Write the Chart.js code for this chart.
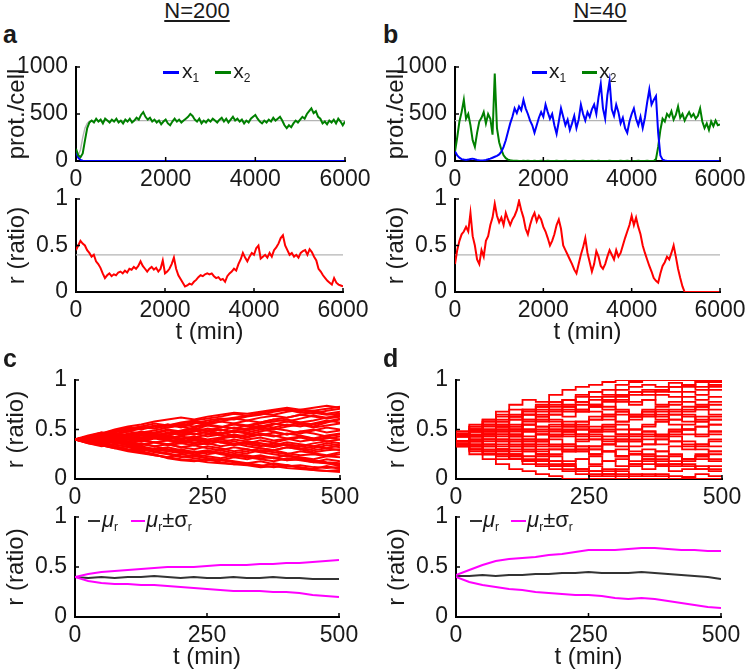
<!DOCTYPE html>
<html>
<head>
<meta charset="utf-8">
<script src="https://cdn.jsdelivr.net/npm/chart.js@4.4.1/dist/chart.umd.min.js"></script>
<style>
  html, body { margin:0; padding:0; background:#fff; }
  #fig { position:relative; width:750px; height:669px; overflow:hidden; font-family:'Liberation Sans', Arial, Helvetica, sans-serif; color:#1a1a1a; }
  .box { position:absolute; }
  .txt { position:absolute; white-space:nowrap; z-index:2; }
  .lab { font-weight:bold; font-size:25px; line-height:25px; }
  .head { font-size:22px; line-height:22px; text-decoration:underline; width:200px; text-align:center; }
  .lg { font-size:21px; line-height:21px; }
  .lg2 { font-size:22px; line-height:22px; }
  .sw { display:inline-block; height:2.5px; vertical-align:middle; }
  .txt sub { font-size:12px; vertical-align:-4px; line-height:0; }
</style>
</head>
<body>
<div id="fig">
  <div class="txt head" style="left:97px;top:0px">N=200</div>
  <div class="txt head" style="left:500px;top:0px">N=40</div>
  <div class="txt lab" style="left:3px;top:22px">a</div>
  <div class="txt lab" style="left:383px;top:22px">b</div>
  <div class="txt lab" style="left:3px;top:346px">c</div>
  <div class="txt lab" style="left:383px;top:346px">d</div>

  <div class="txt lg" style="left:163px;top:60px"><span class="sw" style="width:16px;background:#0000ff"></span><span style="margin-left:3px">x</span><sub>1</sub><span class="sw" style="width:16px;background:#008000;margin-left:16px"></span><span style="margin-left:2px">x</span><sub>2</sub></div>
  <div class="txt lg" style="left:532px;top:60px"><span class="sw" style="width:15px;background:#0000ff"></span><span style="margin-left:2px">x</span><sub>1</sub><span class="sw" style="width:15px;background:#008000;margin-left:16px"></span><span style="margin-left:2px">x</span><sub>2</sub></div>

  <div class="txt lg2" style="left:88px;top:509px"><span class="sw" style="width:12px;background:#333"></span><i style="margin-left:2px">μ</i><sub>r</sub><span class="sw" style="width:14px;background:#ff00ff;margin-left:13px"></span><i style="margin-left:1px">μ</i><sub>r</sub>±σ<sub>r</sub></div>
  <div class="txt lg2" style="left:470px;top:509px"><span class="sw" style="width:12px;background:#333"></span><i style="margin-left:1px">μ</i><sub>r</sub><span class="sw" style="width:15px;background:#ff00ff;margin-left:12px"></span><i style="margin-left:1px">μ</i><sub>r</sub>±σ<sub>r</sub></div>
</div>

<script>
// time axes
const tLong = Array.from({ length: 121 }, (_, i) => i * 50);   // 0..6000 min
const tShort = Array.from({ length: 21 }, (_, i) => i * 25);   // 0..500 min

// panel a (N=200), proteins per cell
const aX1T = [0, 50, 100, 150, 200, 6000];
const aX1 = [100, 35, 10, 2, 0, 0];
const aX2 = [
  130, 60, 40, 80, 220, 350, 410, 430, 410, 450,
  420, 440, 400, 450, 430, 410, 440, 420, 450, 410,
  430, 400, 440, 420, 450, 410, 430, 460, 440, 490,
  520, 470, 440, 460, 420, 440, 410, 430, 390, 420,
  440, 400, 380, 420, 450, 420, 440, 410, 430, 450,
  470, 500, 480, 440, 420, 450, 400, 430, 410, 440,
  420, 450, 430, 410, 440, 460, 420, 450, 410, 440,
  470, 430, 450, 420, 440, 400, 430, 410, 450, 470,
  490, 450, 420, 400, 430, 410, 440, 420, 460, 430,
  450, 470, 430, 380, 350, 380, 360, 400, 430, 410,
  440, 470, 450, 500, 530, 560, 510, 530, 470, 450,
  400, 420, 390, 430, 410, 440, 400, 450, 420, 380,
  420
];
const aDetT = [0, 50, 100, 150, 200, 250, 300, 350, 6000];
const aDet = [80, 60, 120, 250, 350, 400, 425, 430, 430];

// panel b (N=40), proteins per cell
const bX1 = [
  100, 60, 35, 20, 15, 12, 15, 22, 25, 18,
  12, 8, 6, 8, 12, 18, 25, 35, 45, 55,
  70, 100, 150, 220, 310, 400, 470, 560, 510, 580,
  540, 650, 560, 500, 430, 380, 300, 380, 460, 520,
  470, 600, 520, 450, 500, 380, 290, 420, 560, 470,
  380, 440, 330, 400, 480, 350, 440, 600, 500, 430,
  520, 470, 550, 600, 500, 680, 820, 560, 450, 700,
  850, 550, 480, 600, 520, 400, 460, 350, 300, 420,
  500, 560, 450, 380, 470, 350, 460, 620, 760, 600,
  650, 690, 300, 60, 15, 5, 0, 0, 0, 0,
  0, 0, 0, 0, 0, 0, 0, 0, 0, 0,
  0, 0, 0, 0, 0, 0, 0, 0, 0, 0,
  0
];
const bX2 = [
  100, 250, 420, 520, 650, 450, 500, 380, 220, 150,
  300, 420, 460, 520, 400, 500, 450, 280, 930, 350,
  200, 120, 60, 30, 15, 8, 5, 3, 2, 0,
  0, 2, 0, 3, 0, 0, 2, 0, 0, 3,
  0, 0, 2, 0, 0, 0, 3, 0, 0, 0,
  2, 0, 0, 0, 3, 0, 0, 0, 2, 0,
  0, 0, 3, 0, 0, 2, 0, 0, 0, 0,
  2, 0, 0, 0, 0, 3, 0, 0, 2, 0,
  0, 0, 0, 2, 0, 0, 0, 3, 0, 0,
  0, 20, 150, 330, 450, 420, 500, 470, 530, 440,
  490, 580, 460, 500, 430, 480, 520, 470, 500, 450,
  480, 560, 420, 350, 400, 330, 420, 370, 430, 380,
  390
];
const xStar = 430;

// ratio r over 6000 min
const rA = [
  .45, .50, .55, .52, .50, .45, .42, .38, .40, .33,
  .30, .26, .20, .15, .18, .20, .17, .19, .18, .21,
  .22, .20, .23, .21, .25, .24, .27, .25, .28, .33,
  .28, .25, .22, .25, .27, .24, .26, .22, .25, .34,
  .20, .22, .25, .30, .37, .25, .18, .14, .10, .06,
  .07, .09, .08, .11, .13, .16, .18, .17, .19, .20,
  .19, .20, .17, .15, .16, .13, .14, .11, .17, .20,
  .22, .25, .23, .30, .35, .42, .37, .33, .38, .42,
  .40, .47, .50, .36, .38, .40, .37, .42, .38, .45,
  .48, .52, .58, .61, .50, .45, .40, .42, .38, .40,
  .37, .42, .44, .45, .40, .46, .43, .38, .34, .25,
  .22, .18, .15, .12, .10, .08, .15, .10, .08, .07,
  .06
];
const rB = [
  .30, .45, .55, .62, .65, .70, .65, .85, .60, .50,
  .35, .30, .45, .38, .55, .60, .72, .80, .95, .82,
  .75, .80, .72, .85, .78, .72, .78, .82, .88, .98,
  .88, .80, .68, .62, .72, .80, .85, .76, .82, .78,
  .70, .65, .58, .50, .55, .62, .72, .78, .68, .50,
  .45, .40, .35, .30, .24, .20, .30, .40, .48, .58,
  .42, .32, .22, .30, .44, .38, .28, .25, .30, .38,
  .45, .40, .35, .45, .38, .42, .50, .58, .65, .72,
  .82, .72, .80, .70, .62, .50, .42, .35, .28, .22,
  .15, .12, .10, .20, .28, .32, .38, .35, .42, .50,
  .38, .25, .15, .06, 0, 0, 0, 0, 0, 0,
  0, 0, 0, 0, 0, 0, 0, 0, 0, 0,
  0
];
const rStar = 0.4;

// panel c: trajectories of r, N=200
const cRuns = [
  [.40, .43, .45, .47, .50, .52, .51, .54, .56, .58, .57, .60, .62, .64, .66, .65, .68, .70, .69, .71, .73],
  [.40, .37, .34, .31, .28, .26, .24, .22, .20, .19, .17, .16, .15, .14, .12, .13, .11, .10, .09, .08, .07],
  [.40, .42, .44, .48, .52, .50, .53, .55, .52, .56, .59, .61, .60, .63, .65, .68, .70, .67, .69, .66, .68],
  [.40, .38, .35, .33, .30, .28, .25, .21, .19, .18, .20, .17, .15, .16, .18, .15, .13, .14, .12, .11, .12],
  [.40, .42, .40, .43, .45, .47, .44, .46, .48, .51, .49, .52, .55, .53, .56, .58, .60, .57, .59, .62, .64],
  [.40, .39, .36, .38, .35, .33, .30, .32, .29, .27, .28, .25, .23, .24, .21, .22, .19, .20, .17, .16, .15],
  [.40, .41, .44, .42, .45, .48, .46, .49, .47, .45, .48, .50, .47, .49, .52, .50, .53, .55, .52, .54, .56],
  [.40, .38, .40, .37, .34, .36, .33, .35, .32, .30, .33, .31, .28, .30, .27, .29, .26, .24, .25, .23, .22],
  [.40, .43, .41, .44, .42, .40, .43, .41, .44, .46, .43, .45, .48, .46, .44, .47, .45, .48, .50, .47, .49],
  [.40, .37, .39, .36, .38, .35, .37, .39, .36, .34, .36, .33, .35, .37, .34, .32, .35, .33, .31, .34, .32],
  [.40, .44, .47, .45, .49, .53, .51, .55, .53, .50, .54, .52, .56, .54, .51, .55, .58, .56, .53, .57, .60],
  [.40, .36, .33, .35, .32, .29, .31, .28, .26, .28, .25, .27, .24, .26, .29, .27, .25, .28, .26, .24, .27],
  [.40, .41, .39, .42, .40, .38, .41, .39, .37, .40, .38, .41, .43, .40, .42, .39, .41, .38, .40, .42, .40],
  [.40, .42, .45, .43, .41, .44, .42, .40, .38, .41, .39, .37, .40, .38, .36, .34, .37, .35, .33, .36, .34],
  [.40, .38, .36, .39, .41, .39, .42, .44, .47, .45, .48, .46, .49, .51, .54, .52, .55, .53, .56, .59, .57],
  [.40, .39, .42, .40, .37, .35, .33, .30, .28, .25, .23, .21, .24, .22, .20, .18, .21, .19, .17, .20, .18],
  [.40, .43, .46, .49, .51, .53, .56, .54, .57, .59, .61, .63, .66, .64, .67, .69, .71, .68, .66, .69, .71],
  [.40, .37, .35, .32, .29, .27, .24, .22, .25, .23, .21, .19, .22, .20, .23, .21, .24, .22, .20, .23, .25],
  [.40, .42, .39, .37, .40, .42, .45, .43, .40, .42, .45, .47, .44, .42, .45, .43, .46, .44, .41, .44, .46],
  [.40, .38, .41, .39, .36, .39, .37, .34, .36, .39, .37, .40, .38, .35, .33, .36, .34, .31, .29, .31, .29],
  [.40, .43, .41, .45, .48, .46, .43, .46, .49, .52, .55, .53, .51, .54, .57, .60, .62, .65, .63, .61, .63],
  [.40, .36, .34, .31, .33, .30, .27, .25, .22, .24, .21, .19, .17, .15, .13, .16, .14, .12, .10, .13, .10],
  [.40, .41, .43, .40, .38, .41, .44, .42, .39, .37, .35, .38, .36, .33, .31, .29, .32, .30, .27, .29, .30],
  [.40, .39, .37, .40, .43, .45, .42, .44, .47, .49, .46, .44, .42, .45, .48, .51, .49, .46, .49, .52, .50],
  [.40, .42, .46, .50, .53, .55, .58, .60, .62, .60, .63, .65, .67, .66, .68, .70, .72, .70, .72, .74, .72],
  [.40, .38, .35, .37, .34, .31, .28, .26, .23, .21, .19, .20, .18, .16, .14, .12, .14, .11, .09, .08, .09],
  [.40, .41, .38, .40, .43, .41, .44, .47, .45, .48, .51, .49, .52, .50, .53, .56, .54, .57, .55, .58, .61],
  [.40, .39, .41, .38, .36, .34, .37, .35, .32, .34, .31, .29, .32, .30, .27, .25, .23, .21, .19, .17, .16],
  [.40, .43, .45, .42, .46, .44, .47, .50, .48, .51, .49, .46, .49, .47, .50, .48, .45, .48, .46, .43, .45],
  [.40, .37, .39, .41, .38, .40, .37, .35, .38, .36, .39, .37, .34, .36, .39, .37, .40, .42, .39, .41, .43],
  [.40, .42, .44, .46, .44, .47, .49, .52, .54, .57, .55, .58, .61, .59, .62, .64, .62, .65, .67, .65, .66],
  [.40, .38, .36, .33, .35, .32, .30, .28, .30, .27, .29, .26, .24, .22, .24, .21, .19, .21, .18, .16, .13],
  [.40, .41, .40, .38, .41, .39, .42, .40, .43, .41, .39, .37, .35, .38, .36, .33, .35, .33, .36, .38, .36],
  [.40, .42, .40, .43, .41, .44, .46, .44, .41, .43, .40, .42, .45, .43, .46, .44, .41, .43, .41, .38, .40],
  [.40, .37, .34, .32, .29, .31, .28, .30, .27, .25, .27, .29, .26, .28, .31, .29, .32, .30, .33, .31, .34],
  [.40, .43, .47, .45, .48, .51, .54, .52, .55, .53, .56, .58, .56, .59, .57, .60, .58, .61, .64, .62, .65]
];

// panel d: trajectories of r, N=40
const dRuns = [
  [.40, .45, .55, .60, .68, .75, .80, .78, .85, .90, .93, .95, .98, 1, 1, 1, 1, 1, 1, 1, 1],
  [.40, .33, .25, .20, .15, .10, .08, .05, .03, 0, 0, 0, 0, 0, 0, 0, 0, 0, 0, 0, 0],
  [.40, .48, .50, .58, .63, .70, .65, .73, .78, .75, .83, .88, .85, .90, .93, .95, .93, .97, .95, .98, .95],
  [.40, .35, .30, .33, .25, .20, .23, .18, .13, .15, .10, .08, .05, .08, .05, .03, .05, .03, .02, .05, .03],
  [.40, .45, .43, .50, .55, .53, .60, .58, .65, .70, .68, .73, .70, .78, .75, .80, .85, .83, .88, .85, .90],
  [.40, .38, .33, .35, .30, .28, .33, .25, .23, .18, .20, .15, .18, .13, .15, .10, .13, .08, .10, .13, .10],
  [.40, .43, .48, .45, .53, .50, .55, .60, .58, .53, .58, .63, .60, .65, .60, .63, .68, .65, .70, .73, .70],
  [.40, .38, .35, .40, .38, .33, .30, .35, .33, .28, .30, .25, .28, .30, .25, .23, .28, .25, .20, .23, .25],
  [.40, .45, .50, .48, .45, .50, .55, .53, .48, .50, .45, .48, .53, .55, .50, .53, .58, .55, .50, .53, .55],
  [.40, .35, .38, .43, .40, .35, .38, .40, .45, .43, .38, .40, .35, .38, .33, .35, .40, .38, .35, .33, .38],
  [.40, .48, .53, .60, .65, .63, .70, .75, .73, .80, .78, .75, .80, .83, .78, .80, .75, .78, .83, .80, .83],
  [.40, .33, .28, .25, .30, .25, .20, .23, .18, .15, .20, .23, .18, .20, .15, .18, .13, .15, .18, .20, .18],
  [.40, .43, .40, .45, .48, .43, .40, .45, .43, .48, .45, .40, .43, .38, .40, .45, .43, .48, .45, .43, .45],
  [.40, .38, .43, .45, .40, .43, .48, .50, .55, .53, .58, .60, .63, .58, .63, .65, .60, .65, .63, .60, .63],
  [.40, .43, .38, .35, .30, .33, .28, .25, .30, .28, .33, .30, .35, .33, .28, .25, .20, .23, .20, .25, .28],
  [.40, .45, .50, .55, .60, .65, .70, .68, .75, .80, .85, .88, .90, .95, .98, 1, 1, 1, 1, 1, 1],
  [.40, .35, .30, .28, .23, .20, .15, .18, .13, .10, .08, .05, .03, 0, 0, 0, 0, 0, 0, 0, 0],
  [.40, .45, .43, .48, .53, .55, .50, .45, .50, .48, .43, .45, .40, .43, .38, .35, .40, .43, .38, .35, .40],
  [.40, .38, .33, .38, .43, .45, .50, .48, .53, .58, .55, .60, .65, .68, .65, .70, .73, .75, .78, .75, .78],
  [.40, .43, .38, .40, .35, .38, .33, .28, .30, .33, .28, .25, .28, .23, .18, .20, .15, .13, .15, .10, .08],
  [.40, .45, .53, .58, .55, .60, .65, .70, .68, .73, .70, .75, .73, .70, .65, .68, .63, .60, .65, .58, .60],
  [.40, .35, .38, .33, .28, .30, .35, .38, .33, .35, .40, .43, .38, .40, .45, .48, .43, .48, .50, .45, .48],
  [.40, .43, .48, .45, .50, .48, .43, .38, .40, .35, .30, .33, .28, .23, .25, .20, .23, .18, .13, .10, .13],
  [.40, .38, .43, .48, .53, .50, .55, .60, .65, .63, .68, .73, .78, .80, .85, .88, .90, .93, .95, .93, .95],
  [.40, .45, .50, .55, .53, .60, .65, .63, .70, .68, .75, .80, .83, .85, .88, .90, .88, .93, .95, .98, .98],
  [.40, .35, .30, .25, .28, .23, .18, .20, .15, .13, .10, .08, .10, .05, .03, .05, .03, 0, 0, 0, 0],
  [.40, .43, .45, .50, .48, .53, .58, .63, .60, .55, .53, .48, .50, .45, .43, .40, .35, .38, .33, .30, .28],
  [.40, .38, .35, .30, .33, .38, .40, .45, .43, .48, .53, .50, .55, .58, .63, .68, .65, .70, .68, .73, .75],
  [.40, .43, .48, .53, .58, .63, .68, .73, .78, .80, .78, .83, .80, .85, .88, .85, .90, .88, .93, .90, .93],
  [.40, .38, .33, .28, .25, .20, .18, .15, .18, .13, .10, .13, .08, .10, .13, .15, .18, .15, .20, .23, .20],
  [.40, .45, .40, .43, .38, .40, .35, .38, .43, .45, .50, .48, .53, .50, .45, .48, .43, .45, .50, .53, .48],
  [.40, .38, .43, .40, .45, .43, .38, .33, .35, .30, .28, .33, .35, .40, .38, .43, .45, .50, .55, .58, .55],
  [.40, .43, .50, .55, .58, .63, .60, .65, .70, .73, .70, .68, .65, .68, .63, .65, .70, .68, .73, .70, .65],
  [.40, .35, .33, .28, .30, .25, .28, .30, .25, .28, .33, .30, .28, .23, .25, .30, .28, .33, .30, .35, .33],
  [.40, .45, .48, .45, .50, .45, .48, .53, .50, .55, .50, .53, .48, .45, .50, .55, .58, .60, .58, .63, .60],
  [.40, .33, .30, .25, .20, .23, .18, .13, .10, .08, .05, .03, .05, .03, 0, 0, 0, 0, 0, 0, 0]
];

// mean and mean +/- sd of r
const cMean = [.40, .39, .40, .39, .40, .40, .41, .40, .39, .40, .39, .39, .40, .39, .39, .40, .39, .39, .38, .38, .38];
const cUp = [.40, .43, .45, .46, .47, .48, .49, .50, .50, .50, .51, .52, .52, .52, .53, .53, .54, .54, .55, .56, .57];
const cLo = [.40, .36, .34, .33, .33, .32, .32, .31, .30, .29, .28, .27, .26, .26, .26, .25, .25, .24, .22, .21, .20];
const dMean = [.41, .41, .42, .41, .42, .42, .43, .43, .44, .44, .45, .44, .44, .44, .45, .44, .43, .42, .41, .40, .38];
const dUp = [.42, .47, .52, .56, .58, .59, .60, .62, .63, .65, .67, .67, .67, .68, .69, .69, .68, .67, .67, .66, .66];
const dLo = [.40, .35, .32, .30, .28, .27, .25, .24, .23, .22, .22, .21, .19, .18, .19, .18, .16, .14, .12, .10, .09];

const FONT = "'Liberation Sans', Arial, Helvetica, sans-serif";
const INK = '#1a1a1a';
const YW = 76, PT = 14, PR = 30;

const pts = (ts, vs) => vs.map((v, i) => ({ x: ts[i], y: v }));
function line(data, color, width, extra) {
  return Object.assign({ data: data, borderColor: color, borderWidth: width, pointRadius: 0, fill: false, tension: 0 }, extra || {});
}

// matlab style ticks pointing into the plot
const inwardTicks = {
  id: 'inwardTicks',
  afterDraw(chart) {
    const { ctx, chartArea: a, scales } = chart;
    ctx.save();
    ctx.strokeStyle = '#000';
    ctx.lineWidth = 1.5;
    scales.x.ticks.forEach(t => {
      const px = scales.x.getPixelForValue(t.value);
      ctx.beginPath(); ctx.moveTo(px, a.bottom); ctx.lineTo(px, a.bottom - 4); ctx.stroke();
    });
    scales.y.ticks.forEach(t => {
      const py = scales.y.getPixelForValue(t.value);
      ctx.beginPath(); ctx.moveTo(a.left, py); ctx.lineTo(a.left + 4, py); ctx.stroke();
    });
    ctx.restore();
  }
};

function panel(box, cfg) {
  const xh = cfg.xTitle ? 55 : 30;
  const w = YW + box.x1 - box.x0 + PR;
  const h = PT + box.y1 - box.y0 + xh;
  const div = document.createElement('div');
  div.className = 'box';
  div.style.left = (box.x0 - YW) + 'px';
  div.style.top = (box.y0 - PT) + 'px';
  const cv = document.createElement('canvas');
  cv.width = w; cv.height = h;
  cv.style.width = w + 'px'; cv.style.height = h + 'px';
  div.appendChild(cv);
  document.getElementById('fig').appendChild(div);

  new Chart(cv, {
    type: 'line',
    data: { datasets: cfg.datasets },
    plugins: [inwardTicks],
    options: {
      responsive: false,
      animation: false,
      devicePixelRatio: 1,
      layout: { padding: { left: 0, top: PT, right: PR, bottom: 0 }, autoPadding: false },
      plugins: { legend: { display: false }, tooltip: { enabled: false } },
      scales: {
        x: {
          type: 'linear', min: 0, max: cfg.xMax,
          grid: { display: false, drawTicks: false },
          border: { display: true, color: '#000', width: 2 },
          ticks: { stepSize: cfg.xStep, maxRotation: 0, autoSkip: false, padding: 5, color: INK,
                   font: { family: FONT, size: 23 }, callback: v => String(v) },
          title: { display: !!cfg.xTitle, text: cfg.xTitle || '', color: INK,
                   font: { family: FONT, size: 24 }, padding: { top: 0, bottom: 0 } },
          afterFit: s => { s.height = xh; s.paddingLeft = 0; s.paddingRight = 0; }
        },
        y: {
          min: 0, max: cfg.yMax,
          grid: { display: false, drawTicks: false },
          border: { display: true, color: '#000', width: 2 },
          ticks: { stepSize: cfg.yStep, autoSkip: false, padding: 8, color: INK,
                   font: { family: FONT, size: 23 }, callback: v => String(v) },
          title: { display: true, text: cfg.yTitle, color: INK,
                   font: { family: FONT, size: 24 }, padding: { top: 3, bottom: 0 } },
          afterFit: s => { s.width = YW; s.paddingTop = 0; s.paddingBottom = 0; }
        }
      }
    }
  });
}

// a: protein counts, N=200
panel({ x0: 76, x1: 345, y0: 67, y1: 161 }, {
  xMax: 6000, xStep: 2000, yMax: 1000, yStep: 500, yTitle: 'prot./cell',
  datasets: [
    line(pts(tLong, aX2), '#008000', 2),
    line(pts(aX1T, aX1), '#0000ff', 2),
    line(pts(aDetT, aDet), '#b4b4b4', 1.4)
  ]
});
// b: protein counts, N=40
panel({ x0: 455, x1: 720, y0: 67, y1: 161 }, {
  xMax: 6000, xStep: 2000, yMax: 1000, yStep: 500, yTitle: 'prot./cell',
  datasets: [
    line(pts(tLong, bX1), '#0000ff', 2),
    line(pts(tLong, bX2), '#008000', 2),
    line([{ x: 0, y: xStar }, { x: 6000, y: xStar }], '#b4b4b4', 1.2)
  ]
});
// a, b: ratio over time
panel({ x0: 76, x1: 343, y0: 199, y1: 292 }, {
  xMax: 6000, xStep: 2000, yMax: 1, yStep: 0.5, yTitle: 'r (ratio)', xTitle: 't (min)',
  datasets: [
    line(pts(tLong, rA), '#ff0000', 2),
    line([{ x: 0, y: rStar }, { x: 6000, y: rStar }], '#b4b4b4', 1.2)
  ]
});
panel({ x0: 455, x1: 720, y0: 199, y1: 292 }, {
  xMax: 6000, xStep: 2000, yMax: 1, yStep: 0.5, yTitle: 'r (ratio)', xTitle: 't (min)',
  datasets: [
    line(pts(tLong, rB), '#ff0000', 2),
    line([{ x: 0, y: rStar }, { x: 6000, y: rStar }], '#b4b4b4', 1.2)
  ]
});
// c, d: many runs
panel({ x0: 75, x1: 340, y0: 380, y1: 479 }, {
  xMax: 500, xStep: 250, yMax: 1, yStep: 0.5, yTitle: 'r (ratio)',
  datasets: cRuns.map(r => line(pts(tShort, r), '#ff0000', 2))
});
panel({ x0: 456, x1: 722, y0: 380, y1: 479 }, {
  xMax: 500, xStep: 250, yMax: 1, yStep: 0.5, yTitle: 'r (ratio)',
  datasets: dRuns.map(r => line(pts(tShort, r), '#ff0000', 1.8, { stepped: 'after' }))
});
// c, d: mean and spread
panel({ x0: 75, x1: 339, y0: 517, y1: 617 }, {
  xMax: 500, xStep: 250, yMax: 1, yStep: 0.5, yTitle: 'r (ratio)', xTitle: 't (min)',
  datasets: [
    line(pts(tShort, cUp), '#ff00ff', 2),
    line(pts(tShort, cLo), '#ff00ff', 2),
    line(pts(tShort, cMean), '#333333', 2)
  ]
});
panel({ x0: 456, x1: 721, y0: 517, y1: 617 }, {
  xMax: 500, xStep: 250, yMax: 1, yStep: 0.5, yTitle: 'r (ratio)', xTitle: 't (min)',
  datasets: [
    line(pts(tShort, dUp), '#ff00ff', 2),
    line(pts(tShort, dLo), '#ff00ff', 2),
    line(pts(tShort, dMean), '#333333', 2)
  ]
});
</script>
</body>
</html>
